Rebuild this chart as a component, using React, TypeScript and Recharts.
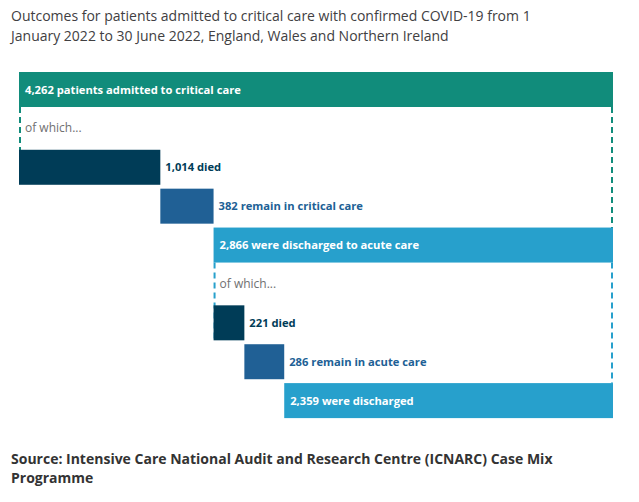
import React from 'react';
import { BarChart, Bar, XAxis, YAxis, Cell } from 'recharts';

const categories = ['admitted', 'ofWhich1', 'died1', 'remain1', 'discharged1', 'ofWhich2', 'died2', 'remain2', 'discharged2'];
const barLabels = [
  '4,262 patients admitted to critical care',
  'of which...',
  '1,014 died',
  '382 remain in critical care',
  '2,866 were discharged to acute care',
  'of which...',
  '221 died',
  '286 remain in acute care',
  '2,359 were discharged',
];
const offsets = [0, 0, 0, 1014, 1396, 1396, 1396, 1617, 1903];
const values = [4262, 4262, 1014, 382, 2866, 2866, 221, 286, 2359];
const kinds = ['total', 'bracketGreen', 'died', 'remain', 'discharged', 'bracketBlue', 'died', 'remain', 'discharged'];

const titleLines = [
  'Outcomes for patients admitted to critical care with confirmed COVID-19 from 1',
  'January 2022 to 30 June 2022, England, Wales and Northern Ireland',
];
const sourceLines = [
  'Source: Intensive Care National Audit and Research Centre (ICNARC) Case Mix',
  'Programme',
];

const COLORS: Record<string, string> = {
  total: '#118c7b',
  bracketGreen: '#118c7b',
  died: '#003c57',
  remain: '#206095',
  discharged: '#27a0cc',
  bracketBlue: '#27a0cc',
};

const data = categories.map((c, i) => ({
  name: c,
  label: barLabels[i],
  offset: offsets[i],
  value: values[i],
  kind: kinds[i],
}));

const FONT = '"Open Sans", sans-serif';
const GAP = 4;

const BarShape = (props: any) => {
  const { x, y, width, height, payload } = props;
  const kind = payload.kind as string;
  const color = COLORS[kind];
  if (kind === 'bracketGreen' || kind === 'bracketBlue') {
    return (
      <g>
        <line x1={x + 1} x2={x + 1} y1={y - GAP} y2={y + 2 * height + GAP} stroke={color} strokeWidth={2} strokeDasharray="6 4" />
        <line x1={x + width - 1} x2={x + width - 1} y1={y - GAP} y2={y + 3 * height + 3 * GAP} stroke={color} strokeWidth={2} strokeDasharray="6 4" />
        <text x={x + 6} y={y + height / 2 + 4} fill="#707071" fontFamily={FONT} fontSize={12}>
          {payload.label}
        </text>
      </g>
    );
  }
  const inside = kind === 'total' || kind === 'discharged';
  return (
    <g>
      <rect x={x} y={y} width={width} height={height} fill={color} />
      <text
        x={inside ? x + 6 : x + width + 5}
        y={y + height / 2 + 4}
        fill={inside ? '#ffffff' : color}
        fontFamily={FONT}
        fontWeight={700}
        fontSize={11.2}
      >
        {payload.label}
      </text>
    </g>
  );
};

export default function App() {
  return (
    <div style={{ position: 'absolute', left: 0, top: 0, width: 639, height: 502, background: '#fff', fontFamily: FONT }}>
      <div style={{ position: 'absolute', left: 11, top: 5.5, fontSize: 14, lineHeight: '20px', color: '#414042', whiteSpace: 'nowrap' }}>
        {titleLines.map((l, i) => (
          <div key={i}>{l}</div>
        ))}
      </div>
      <div style={{ position: 'absolute', left: 0, top: 0 }}>
        <BarChart
          width={639}
          height={502}
          data={data}
          layout="vertical"
          margin={{ top: 70, right: 26, bottom: 82, left: 19 }}
          barCategoryGap={2}
        >
          <XAxis type="number" hide domain={[0, 4262]} />
          <YAxis type="category" dataKey="name" hide />
          <Bar dataKey="offset" stackId="a" fill="transparent" isAnimationActive={false} />
          <Bar dataKey="value" stackId="a" isAnimationActive={false} shape={BarShape}>
            {data.map((d, i) => (
              <Cell key={i} fill={COLORS[d.kind]} />
            ))}
          </Bar>
        </BarChart>
      </div>
      <div style={{ position: 'absolute', left: 11, top: 449, fontSize: 14, lineHeight: '19px', fontWeight: 700, color: '#333333', whiteSpace: 'nowrap' }}>
        {sourceLines.map((l, i) => (
          <div key={i}>{l}</div>
        ))}
      </div>
    </div>
  );
}
